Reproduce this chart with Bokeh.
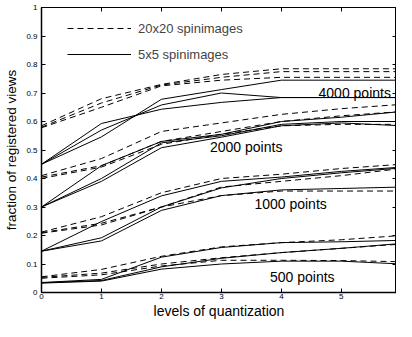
from bokeh.plotting import figure
from bokeh.models import LinearAxis, Legend, LegendItem, CustomJSTickFormatter, FixedTicker, Range1d
from bokeh.core.properties import value
from bokeh.embed import file_html
from bokeh.resources import INLINE

# ---- data ----
levels = [0, 1, 2, 3, 4, 5, 6]
x_ticks = [0, 1, 2, 3, 4, 5, 6]
y_ticks = [0, 0.1, 0.2, 0.3, 0.4, 0.5, 0.6, 0.7, 0.8, 0.9, 1.0]

# 20x20 spin images (dashed)
dashed_4000 = [[0.585, 0.68, 0.73, 0.765, 0.785, 0.785, 0.785],
               [0.58, 0.665, 0.728, 0.755, 0.775, 0.775, 0.775],
               [0.578, 0.65, 0.725, 0.745, 0.755, 0.755, 0.755]]
dashed_2000 = [[0.41, 0.47, 0.565, 0.595, 0.625, 0.645, 0.66],
               [0.405, 0.445, 0.53, 0.565, 0.60, 0.62, 0.635],
               [0.40, 0.44, 0.52, 0.555, 0.585, 0.59, 0.59]]
dashed_1000 = [[0.212, 0.266, 0.35, 0.40, 0.415, 0.435, 0.45],
               [0.21, 0.243, 0.30, 0.37, 0.39, 0.41, 0.435],
               [0.208, 0.237, 0.30, 0.34, 0.356, 0.356, 0.356]]
dashed_500 = [[0.055, 0.081, 0.127, 0.16, 0.175, 0.185, 0.20],
              [0.053, 0.068, 0.10, 0.122, 0.14, 0.155, 0.17],
              [0.05, 0.062, 0.093, 0.113, 0.113, 0.112, 0.108]]

# 5x5 spin images (solid)
solid_4000 = [[0.45, 0.546, 0.678, 0.712, 0.745, 0.745, 0.745],
              [0.45, 0.57, 0.658, 0.70, 0.684, 0.684, 0.684],
              [0.45, 0.593, 0.643, 0.667, 0.684, 0.684, 0.684]]
solid_2000 = [[0.30, 0.445, 0.53, 0.555, 0.60, 0.615, 0.635],
              [0.30, 0.40, 0.525, 0.55, 0.59, 0.60, 0.60],
              [0.30, 0.39, 0.508, 0.545, 0.585, 0.595, 0.585]]
solid_1000 = [[0.145, 0.249, 0.339, 0.39, 0.405, 0.425, 0.44],
              [0.145, 0.192, 0.30, 0.367, 0.40, 0.42, 0.437],
              [0.145, 0.181, 0.288, 0.34, 0.36, 0.365, 0.37]]
solid_500 = [[0.035, 0.046, 0.124, 0.158, 0.175, 0.178, 0.183],
             [0.034, 0.042, 0.09, 0.12, 0.14, 0.155, 0.172],
             [0.033, 0.04, 0.082, 0.10, 0.11, 0.11, 0.10]]

group_labels = ["4000 points", "2000 points", "1000 points", "500 points"]
legend_labels = ["20x20 spinimages", "5x5 spinimages"]

FONT = "Liberation Sans"

p = figure(width=396, height=321, x_range=Range1d(0, 5.92), y_range=Range1d(0, 1),
           output_backend="svg", toolbar_location=None,
           min_border_left=41, min_border_right=0, min_border_top=7, min_border_bottom=0)
p.xgrid.visible = False
p.ygrid.visible = False
p.outline_line_color = "black"
p.outline_line_width = 1
p.background_fill_color = "white"
p.border_fill_color = "white"

fmt = CustomJSTickFormatter(code="return (Math.round(tick*10)/10).toString();")
empty = CustomJSTickFormatter(code="return '';")

def style_axis(ax, ticks, labels=True):
    ax.ticker = FixedTicker(ticks=ticks)
    ax.minor_tick_line_color = None
    ax.major_tick_in = 4
    ax.major_tick_out = 0
    ax.major_tick_line_color = "black"
    ax.axis_line_color = "black"
    if labels:
        ax.formatter = fmt
        ax.major_label_text_font = FONT
        ax.major_label_text_font_size = "8px"
        ax.major_label_text_color = "black"
        ax.axis_label_text_font = FONT
        ax.axis_label_text_font_style = "normal"
        ax.axis_label_text_color = "black"
        ax.axis_line_width = 1.5
    else:
        ax.formatter = empty
        ax.major_label_standoff = 0
        ax.major_label_text_font_size = "1px"

xa = p.xaxis[0]
style_axis(xa, x_ticks)
xa.axis_label = "levels of quantization"
xa.axis_label_text_font_size = "14px"
xa.major_label_standoff = 1
xa.axis_label_standoff = 1

ya = p.yaxis[0]
style_axis(ya, y_ticks)
ya.axis_label = "fraction of registered views"
ya.axis_label_text_font_size = "13.5px"
ya.major_label_standoff = 4
ya.axis_label_standoff = 4

top_ax = LinearAxis()
style_axis(top_ax, x_ticks, labels=False)
p.add_layout(top_ax, "above")
right_ax = LinearAxis()
style_axis(right_ax, y_ticks, labels=False)
p.add_layout(right_ax, "right")

dash_r = None
solid_r = None
for grp in [dashed_4000, dashed_2000, dashed_1000, dashed_500]:
    for ys in grp:
        r = p.line(levels, ys, line_color="black", line_width=1, line_dash="6 4")
        if dash_r is None:
            dash_r = r
for grp in [solid_4000, solid_2000, solid_1000, solid_500]:
    for ys in grp:
        r = p.line(levels, ys, line_color="black", line_width=1)
        if solid_r is None:
            solid_r = r

# group labels
label_x = [4.62, 2.81, 3.55, 3.81]
label_y = [0.70, 0.512, 0.311, 0.053]
p.text(x=label_x, y=label_y, text=group_labels, text_font=value(FONT),
       text_font_size="14px", text_baseline="middle", text_align="left", text_color="black")

legend = Legend(items=[LegendItem(label=legend_labels[0], renderers=[dash_r]),
                       LegendItem(label=legend_labels[1], renderers=[solid_r])],
                location=(26, 228), glyph_width=64, glyph_height=20, label_height=20,
                spacing=6, padding=0, margin=0, label_standoff=7,
                label_text_font=FONT, label_text_font_size="13px",
                background_fill_alpha=0, border_line_color=None)
p.add_layout(legend, "center")

open("out.html", "w").write(file_html(p, INLINE))
